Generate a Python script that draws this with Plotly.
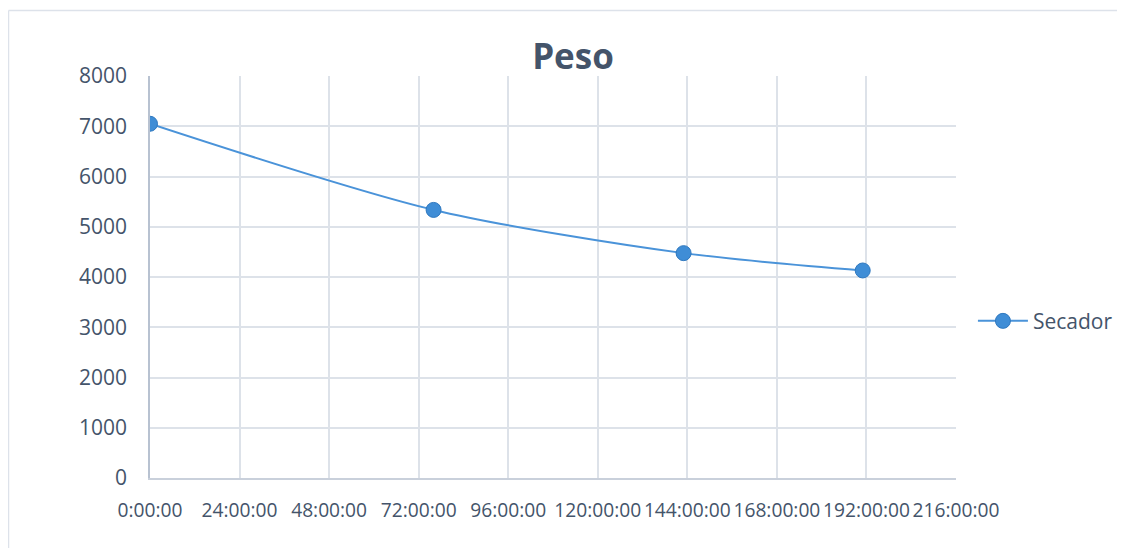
import plotly.graph_objects as go

# horas transcurridas y peso medido
horas = [0, 76, 143, 191]
peso = [7050, 5335, 4475, 4130]
serie = "Secador"

tick_horas = list(range(0, 217, 24))
tick_labels = [f"{h}:00:00" for h in tick_horas]

txt = "#44546A"
grid = "#DDE2E9"
azul = "#3F8DD6"

fig = go.Figure()
fig.add_trace(go.Scatter(
    x=horas, y=peso, name=serie, mode="lines+markers",
    line=dict(color="#4A93D9", width=2, shape="spline", smoothing=0.8),
    marker=dict(size=15, color=azul, line=dict(color="#2F78BF", width=1)),
))

# la pagina tiene 8px de margen en el body
fig.update_layout(
    width=1117, height=540,
    margin=dict(l=142, r=169, t=68, b=70, autoexpand=False),
    paper_bgcolor="white", plot_bgcolor="white",
    font=dict(family="Open Sans, Noto Sans, sans-serif", size=19, color=txt),
    title=dict(text="<b>Peso</b>", x=(573 - 8) / 1117, xref="container", xanchor="center",
               y=1 - (57 - 8) / 540, yref="container", yanchor="middle",
               font=dict(size=35, color=txt)),
    showlegend=True,
    legend=dict(x=1.021, xanchor="left", y=0.39, yanchor="middle",
                font=dict(size=21, color=txt), itemwidth=50),
    xaxis=dict(range=[0, 216], tickvals=tick_horas, ticktext=tick_labels,
               showgrid=True, gridcolor=grid, gridwidth=1.5,
               showline=True, linecolor="#C9D0DB", linewidth=1.5,
               zeroline=False, ticks="", ticklabelstandoff=14,
               tickangle=0, automargin=False,
               tickfont=dict(size=19.2)),
    yaxis=dict(range=[0, 8000], dtick=1000,
               showgrid=True, gridcolor=grid, gridwidth=1.5,
               showline=True, linecolor="#B8C2D1", linewidth=1.5,
               zeroline=False, ticks="", ticklabelstandoff=17,
               automargin=False, tickfont=dict(size=21)),
)

# marco exterior del grafico
fig.add_shape(type="line", xref="paper", yref="paper",
              x0=(-141.5) / 806, x1=(1130 - 150) / 806,
              y0=(478 - 10.5) / 402, y1=(478 - 10.5) / 402,
              line=dict(color="#DDE2EA", width=1.5))
fig.add_shape(type="line", xref="paper", yref="paper",
              x0=(-141.5) / 806, x1=(-141.5) / 806,
              y0=(478 - 10.5) / 402, y1=(478 - 560) / 402,
              line=dict(color="#DDE2EA", width=1.5))

fig.write_html("out.html")
